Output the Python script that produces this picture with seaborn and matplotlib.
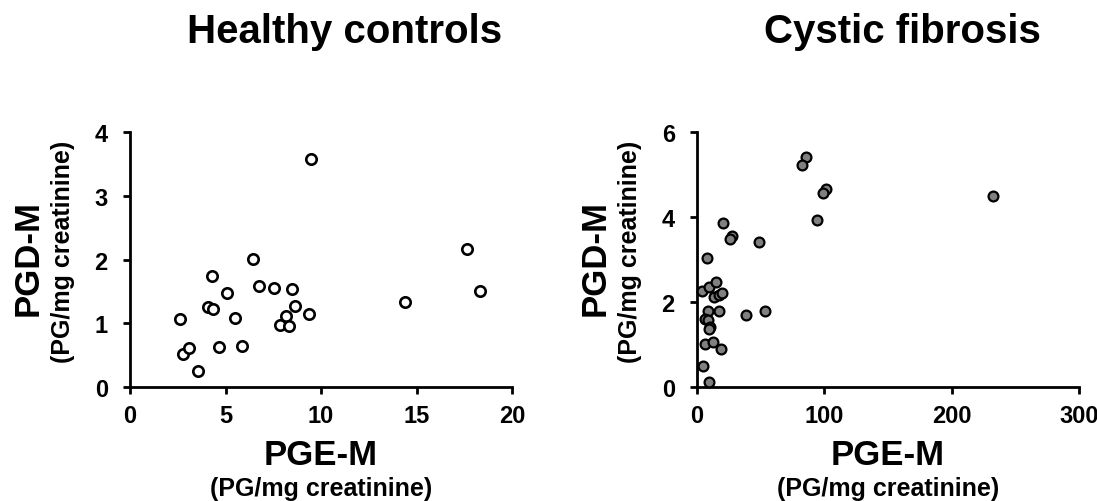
import matplotlib
matplotlib.use("Agg")
import matplotlib.pyplot as plt
import seaborn as sns
import pandas as pd

# ---- data ----
hc_pge = [2.62, 2.79, 3.11, 3.55, 4.07, 4.37, 4.28, 4.66, 5.07, 5.50, 5.89, 6.43,
          6.78, 7.53, 7.83, 8.17, 8.30, 8.47, 8.65, 9.38, 9.50, 14.39, 17.66, 18.34]
hc_pgd = [1.07, 0.52, 0.61, 0.25, 1.25, 1.23, 1.74, 0.63, 1.47, 1.09, 0.64, 2.01,
          1.58, 1.55, 0.97, 1.11, 0.96, 1.54, 1.27, 1.14, 3.58, 1.34, 2.16, 1.51]

cf_pge = [85.5, 82.4, 101.2, 99.3, 232.7, 94.1, 20.4, 27.2, 25.6, 48.6, 7.8, 4.2,
          9.7, 14.9, 13.1, 17.0, 19.6, 8.6, 17.3, 38.2, 53.1, 6.0, 8.4, 9.9, 9.4,
          6.3, 12.3, 19.1, 5.0, 9.2]
cf_pgd = [5.41, 5.22, 4.67, 4.57, 4.49, 3.92, 3.87, 3.56, 3.49, 3.42, 3.04, 2.26,
          2.35, 2.46, 2.12, 2.16, 2.22, 1.78, 1.78, 1.69, 1.80, 1.61, 1.58, 1.41, 1.37,
          1.01, 1.06, 0.89, 0.49, 0.12]

titles = ["Healthy controls", "Cystic fibrosis"]
hc_xticks = [0, 5, 10, 15, 20]
hc_yticks = [0, 1, 2, 3, 4]
cf_xticks = [0, 100, 200, 300]
cf_yticks = [0, 2, 4, 6]
xlabel_main = "PGE-M"
ylabel_main = "PGD-M"
unit_label = "(PG/mg creatinine)"

# ---- style ----
sns.set_style("ticks")
plt.rcParams["font.family"] = ["Liberation Sans", "DejaVu Sans"]
plt.rcParams["font.weight"] = "bold"
plt.rcParams["text.color"] = "black"
plt.rcParams["axes.edgecolor"] = "black"
plt.rcParams["xtick.color"] = "black"
plt.rcParams["ytick.color"] = "black"
plt.rcParams["xtick.labelcolor"] = "black"
plt.rcParams["ytick.labelcolor"] = "black"

W, H = 1097, 502
fig = plt.figure(figsize=(W / 100, H / 100), dpi=100)


def fx(px):
    return px / W


def fy(py):
    return 1 - py / H


def make_axes(x0, x1, ytop, ybot):
    return fig.add_axes([fx(x0), fy(ybot), fx(x1) - fx(x0), fy(ytop) - fy(ybot)])


ax1 = make_axes(130, 512, 133, 388)
ax2 = make_axes(697, 1079, 133, 388)

df_hc = pd.DataFrame({"PGE": hc_pge, "PGD": hc_pgd})
df_cf = pd.DataFrame({"PGE": cf_pge, "PGD": cf_pgd})

sns.scatterplot(data=df_hc, x="PGE", y="PGD", ax=ax1, s=56, facecolor="white",
                edgecolor="black", linewidth=1.9, clip_on=False, zorder=3)
sns.scatterplot(data=df_cf, x="PGE", y="PGD", ax=ax2, s=50, color="#808080",
                edgecolor="black", linewidth=1.6, clip_on=False, zorder=3)

for ax, xt, yt in [(ax1, hc_xticks, hc_yticks), (ax2, cf_xticks, cf_yticks)]:
    ax.set_xlim(xt[0], xt[-1])
    ax.set_ylim(yt[0], yt[-1])
    ax.set_xticks(xt)
    ax.set_yticks(yt)
    ax.set_xticklabels([str(v) for v in xt], fontsize=17, fontweight="bold", color="black")
    ax.set_yticklabels([str(v) for v in yt], fontsize=17, fontweight="bold", color="black")
    ax.set_xlabel("")
    ax.set_ylabel("")
    for side in ["top", "right"]:
        ax.spines[side].set_visible(False)
    for side in ["left", "bottom"]:
        ax.spines[side].set_linewidth(2)
        ax.spines[side].set_color("black")
    ax.tick_params(axis="both", direction="out", length=5, width=2, color="black",
                   labelcolor="black")
    ax.tick_params(axis="y", pad=11)
    ax.tick_params(axis="x", pad=7)

# titles
fig.text(fx(345), fy(43), titles[0], ha="center", va="baseline",
         fontsize=29, fontweight="bold", color="black")
fig.text(fx(902), fy(43), titles[1], ha="center", va="baseline",
         fontsize=29, fontweight="bold", color="black")

# axis labels
for axx0, axx1, ylx0 in [(130, 512, 130), (697, 1079, 697)]:
    cx = (axx0 + axx1) / 2
    fig.text(fx(cx), fy(465), xlabel_main, ha="center", va="baseline",
             fontsize=25, fontweight="bold", color="black")
    fig.text(fx(cx), fy(496), unit_label, ha="center", va="baseline",
             fontsize=18, fontweight="bold", color="black")
    fig.text(fx(ylx0 - 92), fy(258), ylabel_main, ha="center", va="baseline",
             rotation=90, rotation_mode="anchor", fontsize=25, fontweight="bold",
             color="black")
    fig.text(fx(ylx0 - 60), fy(252), unit_label, ha="center", va="baseline",
             rotation=90, rotation_mode="anchor", fontsize=18, fontweight="bold",
             color="black")

fig.savefig("out.png", dpi=100)
